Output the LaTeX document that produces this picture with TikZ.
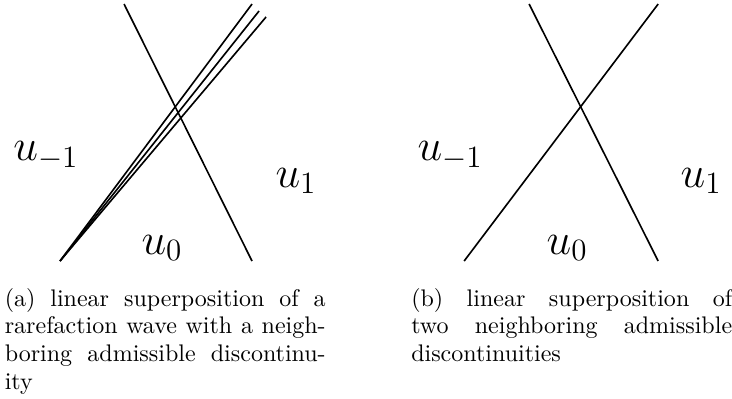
\documentclass[tikz,border=0pt]{standalone}
\usepackage{fix-cm}
\usepackage{amsmath, amssymb}
\usepackage{tikz}
\usetikzlibrary{positioning}
\tikzset{>=latex}
\tikzset{font=\normalsize}
\tikzset{state/.style={font=\fontsize{19}{23}\selectfont, inner sep=0pt}}
\tikzset{subcap/.style={font=\fontsize{10.3}{11.9}\selectfont, text width=4.84cm,
    align=justify, inner sep=0pt, anchor=north west}}

\begin{document}
\begin{tikzpicture}[line width=0.7pt]
  \useasboundingbox (0,0) rectangle (11.04,6.004);
  % (a) rarefaction fan crossing a shock
  \coordinate (fan) at (0.905,2.067);
  \draw (1.871,5.943) -- (3.801,2.067);
  \foreach \x/\y in {3.801/5.943, 3.907/5.838, 4.013/5.748}
    \draw (fan) -- (\x,\y);
  \node[state] (am) at (0.694,3.651) {$u_{-1}$};
  \node[state] (az) at (2.444,2.263) {$u_0$};
  \node[state] (ap) at (4.465,3.273) {$u_1$};
  \node[subcap] (capa) at (0.06,1.67) {(a) linear superposition of a\linebreak
    rarefaction wave with a neigh-\linebreak
    boring admissible discontinu-\linebreak ity};
  % (b) two crossing discontinuities
  \draw (7.980,5.943) -- (9.926,2.067);
  \draw (7.000,2.067) -- (9.926,5.943);
  \node[state] (bm) at (6.788,3.651) {$u_{-1}$};
  \node[state] (bz) at (8.553,2.263) {$u_0$};
  \node[state] (bp) at (10.575,3.273) {$u_1$};
  \node[subcap] (capb) at (6.19,1.67) {(b) linear superposition of\linebreak
    two neighboring admissible\linebreak discontinuities};
\end{tikzpicture}
\end{document}
